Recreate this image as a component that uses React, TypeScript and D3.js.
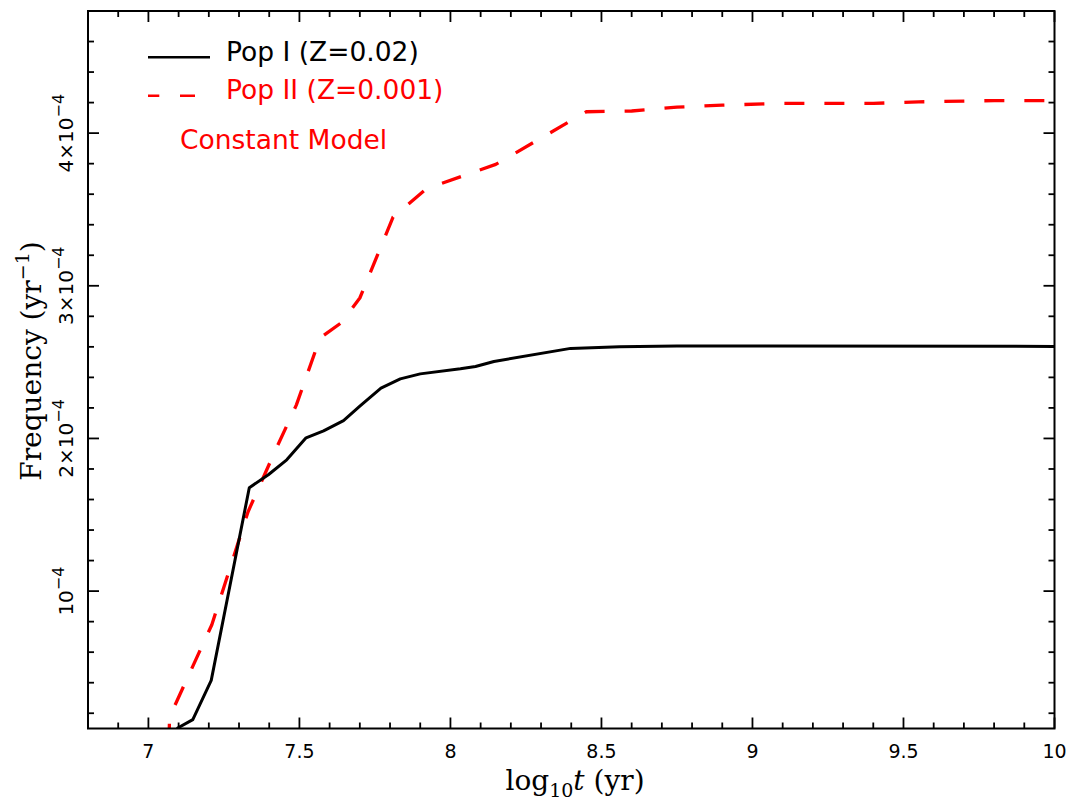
import React from "react";
import * as d3 from "d3";

// log10 age (yr) and frequency (units of 1e-4 yr^-1)
const tPop1 = [7.094, 7.147, 7.208, 7.334, 7.397, 7.458, 7.522, 7.58, 7.646, 7.701, 7.77, 7.834, 7.9, 8.033, 8.083, 8.144, 8.398, 8.56, 8.75, 9.0, 10.0];
const fPop1 = [0.1, 0.158, 0.415, 1.677, 1.762, 1.86, 2.004, 2.05, 2.117, 2.213, 2.329, 2.39, 2.423, 2.456, 2.471, 2.504, 2.59, 2.6, 2.605, 2.605, 2.603];

const tPop2 = [7.068, 7.07, 7.21, 7.33, 7.42, 7.49, 7.568, 7.64, 7.7, 7.81, 7.92, 8.15, 8.45, 8.6, 8.75, 8.9, 9.1, 9.4, 9.55, 9.8, 10.0];
const fPop2 = [0.0, 0.175, 0.78, 1.52, 1.92, 2.22, 2.657, 2.76, 2.92, 3.45, 3.635, 3.795, 4.14, 4.145, 4.17, 4.183, 4.195, 4.195, 4.205, 4.213, 4.213];

const xMajor = [7, 7.5, 8, 8.5, 9, 9.5, 10];
const xLabels = ["7", "7.5", "8", "8.5", "9", "9.5", "10"];
const yMajor = [1, 2, 3, 4];
const yPrefix = ["", "2×", "3×", "4×"];

const W = 1080;
const H = 807;
const left = 88;
const right = 1054.5;
const top = 11;
const bottom = 728.5;

const x = d3.scaleLinear().domain([6.8, 10]).range([left, right]);
const y = d3.scaleLinear().domain([0.1, 4.8]).range([bottom, top]);

const line = d3
  .line<[number, number]>()
  .x((d) => x(d[0]))
  .y((d) => y(d[1]));

const pop1 = line(tPop1.map((t, i) => [t, fPop1[i]] as [number, number])) || "";
const pop2 = line(tPop2.map((t, i) => [t, fPop2[i]] as [number, number])) || "";

// minor ticks every 0.1 in x, every 0.2e-4 in y
const xMinor = d3.range(69, 100).map((v) => v / 10).filter((v) => !xMajor.some((m) => Math.abs(m - v) < 1e-6));
const yMinor = d3.range(1, 25).map((v) => v / 5).filter((v) => !yMajor.some((m) => Math.abs(m - v) < 1e-6));

const sans = "'DejaVu Sans', sans-serif";
const serif = "'DejaVu Serif', serif";

export default function App() {
  const majorLen = 11;
  const minorLen = 6;
  return (
    <svg
      width={W}
      height={H}
      style={{ position: "absolute", left: 0, top: 0, background: "#fff" }}
    >
      <defs>
        <clipPath id="plot">
          <rect x={left} y={top} width={right - left} height={bottom - top} />
        </clipPath>
      </defs>

      {/* ticks on all four sides */}
      <g stroke="#000" strokeWidth={1.8}>
        {xMajor.map((v) => (
          <g key={"xM" + v}>
            <line x1={x(v)} x2={x(v)} y1={bottom} y2={bottom - majorLen} />
            <line x1={x(v)} x2={x(v)} y1={top} y2={top + majorLen} />
          </g>
        ))}
        {xMinor.map((v) => (
          <g key={"xm" + v}>
            <line x1={x(v)} x2={x(v)} y1={bottom} y2={bottom - minorLen} />
            <line x1={x(v)} x2={x(v)} y1={top} y2={top + minorLen} />
          </g>
        ))}
        {yMajor.map((v) => (
          <g key={"yM" + v}>
            <line x1={left} x2={left + majorLen} y1={y(v)} y2={y(v)} />
            <line x1={right} x2={right - majorLen} y1={y(v)} y2={y(v)} />
          </g>
        ))}
        {yMinor.map((v) => (
          <g key={"ym" + v}>
            <line x1={left} x2={left + minorLen} y1={y(v)} y2={y(v)} />
            <line x1={right} x2={right - minorLen} y1={y(v)} y2={y(v)} />
          </g>
        ))}
      </g>

      {/* curves */}
      <g clipPath="url(#plot)" fill="none" strokeLinejoin="round">
        <path d={pop2} stroke="#ff0000" strokeWidth={3.3} strokeDasharray="20 20" />
        <path d={pop1} stroke="#000" strokeWidth={3} />
      </g>

      {/* frame */}
      <rect
        x={left}
        y={top}
        width={right - left}
        height={bottom - top}
        fill="none"
        stroke="#000"
        strokeWidth={2}
      />

      {/* x tick labels */}
      {xMajor.map((v, i) => (
        <text
          key={"xl" + v}
          x={x(v)}
          y={758}
          textAnchor="middle"
          fontFamily={sans}
          fontSize={19}
          fill="#000"
        >
          {xLabels[i]}
        </text>
      ))}

      {/* y tick labels */}
      {yMajor.map((v, i) => (
        <text
          key={"yl" + v}
          transform={`translate(72.5,${y(v)}) rotate(-90)`}
          textAnchor="middle"
          fontFamily={sans}
          fontSize={20}
          fill="#000"
        >
          {yPrefix[i]}10
          <tspan dy={-9} fontSize={16}>
            −4
          </tspan>
        </text>
      ))}

      {/* axis titles */}
      <text
        x={575}
        y={790}
        textAnchor="middle"
        fontFamily={serif}
        fontSize={28}
        fill="#000"
      >
        log
        <tspan dy={7} fontSize={19}>
          10
        </tspan>
        <tspan dy={-7} fontStyle="italic">
          t
        </tspan>
        <tspan> (yr)</tspan>
      </text>
      <text
        transform="translate(41,361) rotate(-90)"
        textAnchor="middle"
        fontFamily={serif}
        fontSize={28}
        fill="#000"
      >
        Frequency (yr
        <tspan dy={-12} fontSize={19}>
          −1
        </tspan>
        <tspan dy={12}>)</tspan>
      </text>

      {/* legend */}
      <line x1={148} x2={210} y1={57.3} y2={57.3} stroke="#000" strokeWidth={2.5} />
      <text x={226} y={61} fontFamily={sans} fontSize={26.5} fill="#000">
        Pop I (Z=0.02)
      </text>
      <line
        x1={148}
        x2={210}
        y1={95.7}
        y2={95.7}
        stroke="#ff0000"
        strokeWidth={2.5}
        strokeDasharray="11.3 20.7 15 100"
      />
      <text x={226} y={99} fontFamily={sans} fontSize={26.5} fill="#ff0000">
        Pop II (Z=0.001)
      </text>
      <text x={180} y={149} fontFamily={sans} fontSize={26.5} fill="#ff0000">
        Constant Model
      </text>
    </svg>
  );
}
